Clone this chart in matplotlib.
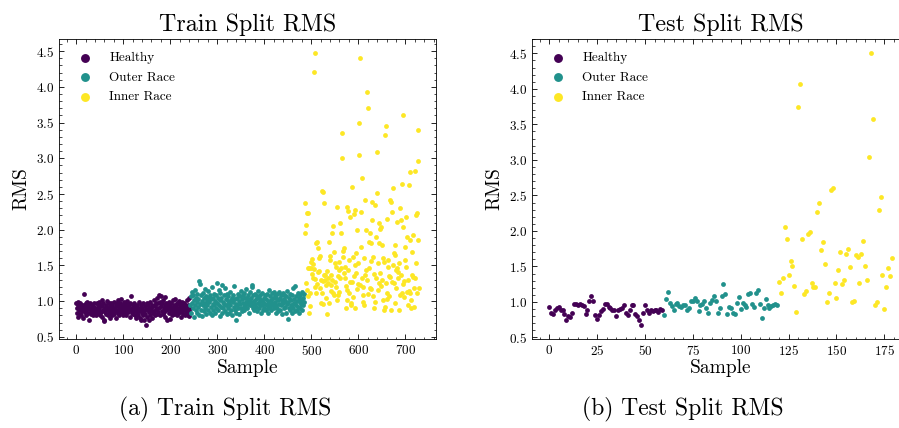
import numpy as np
import matplotlib
matplotlib.use("Agg")
import matplotlib.pyplot as plt
from matplotlib.ticker import AutoMinorLocator

# ---- data -------------------------------------------------------------
labels = ["Healthy", "Outer Race", "Inner Race"]
colors = ["#440154", "#21918c", "#fde725"]

train_healthy = [
    0.98, 0.90, 0.84, 0.94, 0.78, 0.99, 0.87, 0.93, 0.82, 0.97, 0.89, 0.81, 0.95, 0.86, 0.91, 0.77, 0.94, 1.10, 0.85, 0.93,
    0.87, 0.97, 0.80, 0.90, 0.99, 0.84, 0.94, 0.89, 0.74, 0.91, 0.98, 0.82, 0.87, 0.95, 0.85, 0.93, 0.81, 0.90, 0.86, 0.97,
    0.82, 0.91, 0.87, 0.80, 0.98, 0.89, 0.94, 0.84, 0.90, 0.99, 0.81, 0.86, 0.95, 0.85, 1.02, 0.78, 0.93, 0.87, 0.97, 0.73,
    0.72, 0.90, 0.85, 0.94, 0.82, 1.00, 0.89, 0.80, 0.91, 0.86, 0.97, 0.84, 0.93, 0.76, 0.98, 0.87, 0.81, 0.95, 0.90, 0.85,
    0.99, 0.82, 0.91, 0.87, 0.94, 0.77, 0.97, 0.86, 1.02, 0.84, 0.93, 0.89, 0.81, 0.98, 0.90, 0.85, 1.03, 0.87, 0.95, 0.80,
    0.91, 0.99, 0.84, 0.89, 0.94, 0.86, 0.97, 0.81, 0.90, 1.00, 0.85, 0.93, 0.87, 0.95, 0.78, 0.98, 0.89, 1.07, 0.84, 0.91,
    0.86, 0.94, 0.82, 0.90, 0.97, 0.80, 0.87, 0.93, 0.76, 0.85, 0.95, 0.89, 0.81, 0.99, 0.86, 0.91, 0.77, 0.74, 0.87, 0.94,
    0.84, 0.90, 0.80, 0.98, 0.86, 0.74, 0.93, 0.82, 0.66, 0.89, 0.97, 0.78, 0.87, 0.94, 0.73, 0.90, 0.85, 0.99, 0.81, 0.91,
    0.87, 0.95, 0.77, 0.93, 0.84, 1.02, 0.86, 0.94, 0.80, 0.98, 0.89, 0.82, 1.04, 0.90, 0.85, 0.97, 0.91, 1.08, 0.81, 0.99,
    0.93, 1.07, 0.86, 0.97, 0.82, 1.02, 0.90, 0.85, 1.06, 0.94, 0.78, 0.98, 0.87, 0.91, 0.74, 0.95, 0.89, 0.84, 0.99, 0.93,
    0.75, 0.87, 0.97, 0.81, 0.91, 0.85, 1.02, 0.89, 0.95, 0.82, 1.03, 0.90, 0.86, 0.94, 0.80, 0.98, 0.91, 0.84, 1.00, 0.87,
    0.94, 0.85, 0.97, 0.78, 0.90, 0.99, 0.86, 0.93, 0.82, 0.98, 0.89, 0.81, 0.95, 0.91, 0.85, 1.02, 0.87, 0.80, 0.94, 1.05,
    0.79, 0.86, 0.91,
]

train_outer = [
    0.94, 1.07, 0.84, 1.13, 0.97, 0.90, 1.09, 0.78, 1.01, 0.95, 1.16, 0.87, 1.05, 0.83, 0.99, 1.10, 0.92, 1.03, 0.81, 1.28,
    1.24, 0.96, 1.08, 0.88, 1.00, 0.79, 1.12, 0.94, 1.04, 0.86, 1.17, 0.97, 0.91, 1.07, 0.82, 1.01, 0.95, 1.14, 0.87, 1.05,
    0.99, 0.84, 1.09, 0.92, 1.03, 0.81, 1.20, 0.96, 1.04, 0.88, 1.10, 0.94, 1.00, 0.83, 1.08, 0.91, 1.25, 0.97, 1.05, 0.87,
    1.16, 0.95, 1.01, 0.79, 1.12, 0.92, 1.04, 0.84, 1.23, 0.99, 0.90, 1.08, 0.96, 1.18, 0.86, 1.03, 0.94, 1.10, 0.82, 1.00,
    0.91, 1.07, 0.97, 0.83, 1.13, 0.95, 1.01, 0.88, 1.05, 0.81, 0.99, 1.09, 0.92, 1.21, 0.87, 1.03, 0.84, 0.96, 0.73, 1.04,
    0.94, 1.10, 0.90, 1.00, 0.82, 1.07, 0.96, 1.14, 0.91, 1.03, 0.86, 1.08, 0.97, 0.92, 1.12, 0.88, 1.04, 0.95, 1.17, 0.99,
    1.05, 0.90, 1.09, 0.96, 1.01, 0.84, 1.13, 0.94, 1.04, 0.99, 1.20, 1.22, 0.95, 1.08, 0.91, 1.00, 0.87, 1.10, 0.96, 1.03,
    0.92, 1.07, 0.86, 1.14, 0.97, 1.04, 0.90, 1.00, 0.95, 1.09, 0.83, 1.01, 0.94, 1.12, 0.88, 0.99, 1.05, 0.91, 0.96, 1.08,
    0.87, 1.03, 0.95, 1.10, 0.91, 1.00, 0.84, 1.16, 0.96, 1.07, 0.92, 1.01, 0.88, 1.12, 0.97, 1.04, 0.94, 1.13, 0.90, 1.08,
    0.99, 0.83, 1.05, 0.95, 1.10, 0.91, 1.01, 0.86, 1.13, 0.96, 1.04, 0.88, 1.08, 0.94, 1.00, 0.82, 1.12, 0.97, 1.03, 0.90,
    1.09, 0.92, 1.00, 0.84, 1.07, 0.96, 1.14, 0.75, 0.99, 0.91, 1.05, 0.87, 1.10, 0.95, 1.01, 0.83, 1.08, 0.94, 1.18, 0.90,
    1.03, 0.97, 1.21, 0.86, 1.07, 0.95, 1.00, 0.88, 1.12, 0.92, 1.04, 0.83, 0.99, 1.09, 0.91, 1.01, 0.96, 1.13, 0.87, 1.05,
    0.95, 1.10, 0.99,
]

train_inner = [
    1.96, 2.38, 2.06, 1.26, 2.23, 1.15, 1.47, 1.07, 2.24, 1.46, 0.84, 0.93, 1.12, 1.46, 1.55, 1.38, 1.59, 1.52, 1.33, 1.45, 4.21, 1.20, 1.31,
    4.48, 1.11, 1.81, 1.83, 1.24, 1.41, 1.75, 1.60, 1.42, 1.63, 1.19, 1.30, 0.98, 1.11, 2.54, 0.96, 1.28, 2.53, 2.37, 1.37, 1.29, 1.36, 1.05,
    1.22, 1.42, 0.82, 1.33, 1.25, 0.97, 1.83, 1.63, 1.58, 1.36, 1.22, 1.14, 1.30, 1.96, 1.12, 2.05, 1.09, 1.69, 1.53, 1.27, 1.20, 1.48, 1.02,
    2.32, 1.35, 1.09, 1.55, 1.44, 1.13, 1.32, 2.10, 1.47, 1.95, 3.35, 3.01, 1.70, 1.62, 1.39, 1.74, 1.48, 1.32, 0.90, 1.21, 2.32, 1.15, 1.01,
    2.26, 1.43, 1.12, 1.58, 2.18, 1.27, 0.97, 0.95, 1.27, 2.60, 1.62, 1.06, 1.35, 2.22, 1.50, 0.90, 2.27, 1.40, 1.67, 2.00, 1.17, 1.53, 1.24,
    3.49, 3.04, 4.40, 1.23, 2.25, 1.76, 1.33, 2.73, 1.08, 1.20, 0.99, 1.61, 0.94, 2.41, 1.37, 1.44, 2.00, 1.29, 3.93, 3.71, 1.10, 1.83, 1.46,
    1.95, 1.18, 1.17, 1.56, 1.81, 2.39, 2.13, 1.62, 1.07, 0.90, 1.38, 2.34, 0.99, 1.32, 1.90, 2.52, 3.09, 1.54, 1.15, 1.26, 2.09, 1.81, 1.40,
    2.01, 2.04, 1.21, 1.79, 1.30, 1.60, 1.01, 1.55, 0.87, 0.92, 3.32, 3.45, 1.26, 1.03, 1.12, 2.15, 1.57, 1.48, 1.35, 1.07, 2.41, 1.34, 0.88,
    2.39, 2.25, 1.27, 1.50, 2.59, 1.67, 1.25, 0.97, 1.64, 1.78, 1.44, 1.19, 1.46, 2.11, 1.32, 1.41, 0.88, 1.53, 1.08, 2.30, 1.36, 2.13, 1.11,
    2.64, 2.04, 1.24, 3.60, 1.06, 1.28, 1.76, 1.57, 1.48, 2.18, 1.90, 1.13, 0.94, 1.29, 1.14, 2.62, 1.11, 1.85, 2.81, 1.02, 0.90, 1.69, 1.37,
    1.92, 1.34, 1.18, 0.92, 2.82, 1.32, 2.20, 1.53, 2.23, 1.11, 3.39, 2.96, 1.86, 1.19,
]

test_healthy = [
    0.93, 0.84, 0.83, 0.88, 0.92, 0.93, 0.88, 0.89, 0.83, 0.74, 0.80, 0.79, 0.84, 0.97, 0.97, 0.95, 0.97, 0.95, 0.94, 0.83,
    0.88, 1.02, 1.08, 1.02, 0.82, 0.76, 0.82, 0.87, 0.90, 0.97, 0.97, 0.93, 0.91, 0.89, 0.88, 0.80, 0.89, 0.90, 0.91, 0.96,
    0.84, 0.82, 0.89, 0.95, 0.95, 0.83, 0.80, 0.74, 0.67, 0.84, 0.95, 0.89, 0.84, 0.89, 0.87, 0.89, 0.89, 0.86, 0.90, 0.88,
]

test_outer = [
    0.81, 1.04, 1.14, 0.99, 0.94, 0.88, 0.97, 0.98, 0.94, 0.93, 0.96, 0.95, 0.88, 0.91, 1.02, 1.02, 1.06, 1.01, 0.87, 0.96,
    0.97, 1.01, 0.91, 0.85, 0.99, 1.03, 1.09, 1.02, 0.84, 0.91, 1.09, 1.25, 1.11, 0.83, 0.93, 0.91, 0.85, 0.83, 0.99, 1.07,
    0.90, 0.98, 0.95, 0.93, 1.11, 1.13, 0.97, 0.93, 1.12, 1.17, 0.97, 0.78, 0.91, 1.04, 0.96, 0.91, 0.94, 0.96, 0.97, 0.95,
]

test_inner = [
    1.28, 1.12, 1.34, 2.06, 1.88, 1.38, 1.58, 1.50, 1.23, 0.86, 3.75, 4.07, 1.88, 1.11, 1.16, 1.95, 1.99, 1.27, 1.21, 1.21,
    2.26, 2.40, 1.73, 1.85, 1.54, 1.00, 1.12, 2.57, 2.61, 1.27, 1.05, 1.45, 1.70, 1.25, 1.31, 1.68, 1.74, 1.49, 1.00, 1.01,
    1.66, 1.63, 1.27, 1.67, 1.86, 1.51, 1.31, 3.04, 4.51, 3.58, 0.95, 1.00, 2.30, 2.48, 1.38, 0.90, 1.21, 1.48, 1.37, 1.62,
]

train_groups = [train_healthy, train_outer, train_inner]
test_groups = [test_healthy, test_outer, test_inner]

# ---- style ------------------------------------------------------------
plt.rcParams.update({
    "font.family": "serif",
    "font.serif": ["cmr10"],
    "mathtext.fontset": "cm",
    "axes.formatter.use_mathtext": True,
    "axes.linewidth": 0.6,
    "xtick.direction": "in",
    "ytick.direction": "in",
    "xtick.top": True,
    "ytick.right": True,
    "xtick.major.size": 3.5,
    "ytick.major.size": 3.5,
    "xtick.minor.size": 1.8,
    "ytick.minor.size": 1.8,
    "xtick.major.width": 0.6,
    "ytick.major.width": 0.6,
    "xtick.minor.width": 0.5,
    "ytick.minor.width": 0.5,
    "xtick.minor.visible": True,
    "ytick.minor.visible": True,
    "xtick.labelsize": 9.5,
    "ytick.labelsize": 9.5,
    "legend.frameon": False,
})

fig = plt.figure(figsize=(8.99, 4.28), dpi=100)
ax_train = fig.add_axes([0.0656, 0.2079, 0.4195, 0.701])
ax_test = fig.add_axes([0.5918, 0.2079, 0.4195, 0.701])


def draw_split(ax, groups, title):
    start = 0
    for vals, lab, col in zip(groups, labels, colors):
        idx = np.arange(start, start + len(vals))
        ax.scatter(idx, vals, s=12, color=col, label=lab, linewidths=0)
        start += len(vals)
    ax.set_title(title, fontsize=17.3)
    ax.set_xlabel("Sample", fontsize=14, labelpad=1)
    ax.set_ylabel("RMS", fontsize=14, labelpad=4)
    ax.xaxis.set_minor_locator(AutoMinorLocator(5))
    ax.yaxis.set_minor_locator(AutoMinorLocator(5))
    ax.legend(loc="upper left", fontsize=9.5, markerscale=1.85,
              handletextpad=0.8, labelspacing=0.55, borderaxespad=0.6)


draw_split(ax_train, train_groups, "Train Split RMS")
draw_split(ax_test, test_groups, "Test Split RMS")

fig.text(225 / 899, 1 - 409 / 428, "(a) Train Split RMS", ha="center", va="center", fontsize=17)
fig.text(683 / 899, 1 - 409 / 428, "(b) Test Split RMS", ha="center", va="center", fontsize=17)

fig.savefig("out.png", dpi=100)
